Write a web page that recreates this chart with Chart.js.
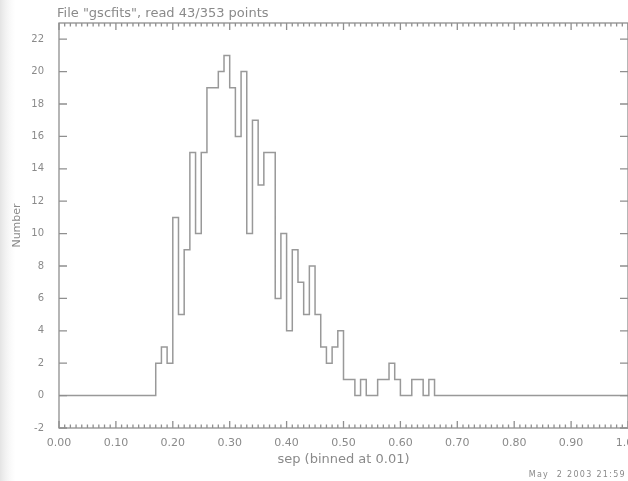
<!DOCTYPE html>
<html>
<head>
<meta charset="utf-8">
<script src="https://cdn.jsdelivr.net/npm/chart.js@4"></script>
<style>
  html, body { margin: 0; padding: 0; background: #ffffff; }
  #wrap { width: 628px; height: 481px; position: relative; }
</style>
</head>
<body>
<div id="wrap"><canvas id="hist" width="628" height="481"></canvas></div>
<script>
// Histogram of separations, bin width 0.01, from 0.00 to 1.00
const binWidth = 0.01;
const binCounts = [
  0, 0, 0, 0, 0, 0, 0, 0, 0, 0,       // 0.00 - 0.09
  0, 0, 0, 0, 0, 0, 0, 2, 3, 2,       // 0.10 - 0.19
  11, 5, 9, 15, 10, 15, 19, 19, 20, 21, // 0.20 - 0.29
  19, 16, 20, 10, 17, 13, 15, 15, 6, 10, // 0.30 - 0.39
  4, 9, 7, 5, 8, 5, 3, 2, 3, 4,       // 0.40 - 0.49
  1, 1, 0, 1, 0, 0, 1, 1, 2, 1,       // 0.50 - 0.59
  0, 0, 1, 1, 0, 1, 0, 0, 0, 0,       // 0.60 - 0.69
  0, 0, 0, 0, 0, 0, 0, 0, 0, 0,       // 0.70 - 0.79
  0, 0, 0, 0, 0, 0, 0, 0, 0, 0,       // 0.80 - 0.89
  0, 0, 0, 0, 0, 0, 0, 0, 0, 0        // 0.90 - 0.99
];
const xRange = [0, 1];
const yRange = [-2, 23];
const xMajorStep = 0.1;
const xMinorStep = 0.01;
const yMajorStep = 2;

const plotTitle = 'File "gscfits", read 43/353 points';
const xTitle = 'sep (binned at 0.01)';
const yTitle = 'Number';
const stampText = 'May  2 2003 21:59';

const INK = '#8f8f8f';
const TEXT = '#8a8a8a';
const FONT = '"DejaVu Sans", sans-serif';

// Step outline: each point marks the left edge of a bin; a closing point at the right end.
const steps = binCounts.map((c, i) => ({ x: +(i * binWidth).toFixed(2), y: c }));
steps.push({ x: xRange[1], y: binCounts[binCounts.length - 1] });

// Frame, inward tick marks, title and time stamp
const framePlugin = {
  id: 'frame',
  beforeDraw(chart) {
    const ctx = chart.ctx;
    ctx.save();
    ctx.fillStyle = '#ffffff';
    ctx.fillRect(0, 0, chart.width, chart.height);
    // faint band on the left margin
    const g = ctx.createLinearGradient(0, 0, 16, 0);
    g.addColorStop(0, 'rgba(225,225,225,0.9)');
    g.addColorStop(1, 'rgba(245,245,245,0)');
    ctx.fillStyle = g;
    ctx.fillRect(0, 0, 16, chart.height);
    ctx.restore();
  },
  afterDatasetsDraw(chart) {
    const ctx = chart.ctx;
    const a = chart.chartArea;
    const xs = chart.scales.x, ys = chart.scales.y;
    ctx.save();
    ctx.strokeStyle = INK;
    ctx.lineWidth = 1.3;
    ctx.strokeRect(a.left, a.top, a.right - a.left, a.bottom - a.top);

    ctx.beginPath();
    const nMinor = Math.round((xRange[1] - xRange[0]) / xMinorStep);
    const perMajor = Math.round(xMajorStep / xMinorStep);
    for (let i = 0; i <= nMinor; i++) {
      const px = xs.getPixelForValue(xRange[0] + i * xMinorStep);
      const len = (i % perMajor === 0) ? 7 : 3.5;
      ctx.moveTo(px, a.bottom); ctx.lineTo(px, a.bottom - len);
      ctx.moveTo(px, a.top); ctx.lineTo(px, a.top + len);
    }
    ys.ticks.forEach(t => {
      const py = ys.getPixelForValue(t.value);
      ctx.moveTo(a.left, py); ctx.lineTo(a.left + 8, py);
      ctx.moveTo(a.right, py); ctx.lineTo(a.right - 8, py);
    });
    ctx.stroke();

    ctx.fillStyle = TEXT;
    ctx.font = '13px ' + FONT;
    ctx.textAlign = 'left';
    ctx.textBaseline = 'alphabetic';
    ctx.fillText(plotTitle, a.left - 2, 17);

    ctx.font = '8px ' + FONT;
    ctx.letterSpacing = '1.3px';
    ctx.textAlign = 'right';
    ctx.fillText(stampText, chart.width - 2, 477);
    ctx.restore();
  }
};

new Chart(document.getElementById('hist'), {
  type: 'line',
  data: {
    datasets: [{
      data: steps,
      stepped: true,
      borderColor: '#999999',
      borderWidth: 1.5,
      pointRadius: 0,
      fill: false,
      tension: 0
    }]
  },
  options: {
    responsive: false,
    animation: false,
    layout: { padding: { left: 0, right: 0, top: 23, bottom: 0 } },
    plugins: { legend: { display: false }, tooltip: { enabled: false }, title: { display: false } },
    scales: {
      x: {
        type: 'linear',
        min: xRange[0], max: xRange[1],
        grid: { display: false },
        border: { display: false },
        ticks: {
          stepSize: xMajorStep,
          autoSkip: false,
          maxRotation: 0,
          padding: 1,
          color: TEXT,
          font: { family: FONT, size: 11 },
          callback: v => v.toFixed(2)
        },
        title: {
          display: true, text: xTitle, color: TEXT,
          font: { family: FONT, size: 13 },
          padding: { top: 0, bottom: 14 }
        },
        afterFit(s) { s.height = 53; s.paddingLeft = 0; s.paddingRight = 0; }
      },
      y: {
        type: 'linear',
        min: yRange[0], max: yRange[1],
        grid: { display: false },
        border: { display: false },
        ticks: {
          stepSize: yMajorStep,
          padding: 7,
          color: TEXT,
          font: { family: FONT, size: 10 }
        },
        afterBuildTicks(s) {
          s.ticks = s.ticks.filter(t => t.value % yMajorStep === 0);
        },
        title: {
          display: true, text: yTitle, color: TEXT,
          font: { family: FONT, size: 11 },
          padding: { top: 11, bottom: 0 }
        },
        afterFit(s) { s.width = 59; s.paddingTop = 0; s.paddingBottom = 0; }
      }
    }
  },
  plugins: [framePlugin]
});
</script>
</body>
</html>
